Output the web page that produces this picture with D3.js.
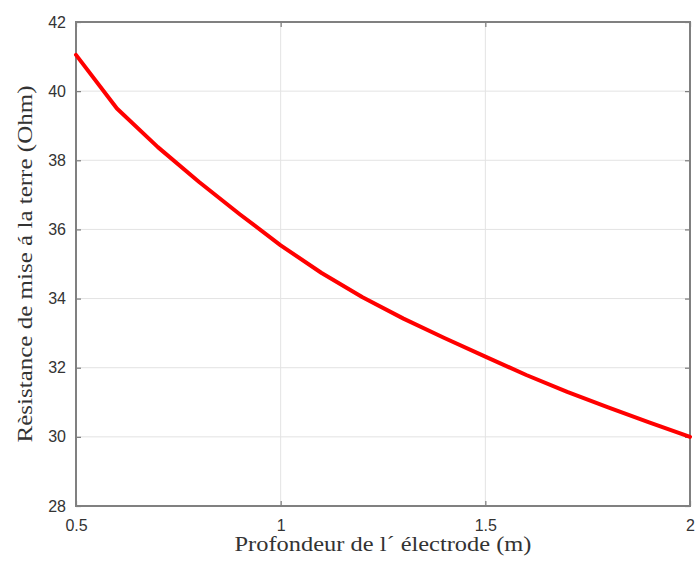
<!DOCTYPE html>
<html>
<head>
<meta charset="utf-8">
<script src="https://cdn.jsdelivr.net/npm/d3@7"></script>
<style>
  html, body { margin: 0; padding: 0; background: #fff; }
  svg { display: block; }
</style>
</head>
<body>
<svg id="chart" width="696" height="562"></svg>
<script>
// Electrode depth (m) and the resulting grounding resistance (Ohm)
const depth = [0.5, 0.6, 0.7, 0.8, 0.9, 1.0, 1.1, 1.2, 1.3, 1.4, 1.5, 1.6, 1.7, 1.8, 1.9, 2.0];
const resistance = [41.05, 39.5, 38.38, 37.38, 36.44, 35.54, 34.74, 34.04, 33.42, 32.86, 32.32, 31.79, 31.3, 30.85, 30.42, 30.0];

const xTicks = [0.5, 1, 1.5, 2];
const yTicks = [28, 30, 32, 34, 36, 38, 40, 42];
const xLabel = "Profondeur de l\u00b4 \u00e9lectrode (m)";
const yLabel = "R\u00e8sistance de mise \u00e1 la terre (Ohm)";

const margin = { left: 76, right: 6, top: 22, bottom: 56 };
const W = 696, H = 562;
const iw = W - margin.left - margin.right;
const ih = H - margin.top - margin.bottom;

const svg = d3.select("#chart");
const g = svg.append("g").attr("transform", `translate(${margin.left},${margin.top})`);

const x = d3.scaleLinear().domain([0.5, 2]).range([0, iw]);
const y = d3.scaleLinear().domain([28, 42]).range([ih, 0]);

// grid
g.append("g").selectAll("line").data(xTicks.slice(1, -1)).join("line")
  .attr("x1", d => x(d)).attr("x2", d => x(d))
  .attr("y1", 0).attr("y2", ih)
  .attr("stroke", "#e3e3e3").attr("stroke-width", 1);
g.append("g").selectAll("line").data(yTicks.slice(1, -1)).join("line")
  .attr("y1", d => y(d)).attr("y2", d => y(d))
  .attr("x1", 0).attr("x2", iw)
  .attr("stroke", "#e3e3e3").attr("stroke-width", 1);

// axes with inward ticks
const tickStyle = sel => {
  sel.select(".domain").remove();
  sel.selectAll(".tick line").attr("stroke", "#7a7a7a").attr("stroke-width", 1.2);
  sel.selectAll(".tick text")
    .attr("fill", "#333")
    .style("font-family", "'Liberation Sans', Arial, sans-serif")
    .style("font-size", "16px");
};

g.append("g").attr("transform", `translate(0,${ih})`)
  .call(d3.axisBottom(x).tickValues(xTicks).tickFormat(d3.format("")).tickSizeInner(-5).tickPadding(14))
  .call(tickStyle);
g.append("g")
  .call(d3.axisLeft(y).tickValues(yTicks).tickFormat(d3.format("")).tickSizeInner(-5).tickPadding(10))
  .call(tickStyle);
g.append("g")
  .call(d3.axisTop(x).tickValues(xTicks).tickFormat("").tickSizeInner(-5))
  .call(tickStyle);
g.append("g").attr("transform", `translate(${iw},0)`)
  .call(d3.axisRight(y).tickValues(yTicks).tickFormat("").tickSizeInner(-5))
  .call(tickStyle);

// frame
g.append("rect").attr("x", 0).attr("y", 0).attr("width", iw).attr("height", ih)
  .attr("fill", "none").attr("stroke", "#808080").attr("stroke-width", 2);

// curve
const pts = depth.map((d, i) => [d, resistance[i]]);
g.append("path").datum(pts)
  .attr("fill", "none").attr("stroke", "#ff0000").attr("stroke-width", 4)
  .attr("stroke-linejoin", "round").attr("stroke-linecap", "round")
  .attr("d", d3.line().x(d => x(d[0])).y(d => y(d[1])));

// axis titles
svg.append("text")
  .attr("x", margin.left + iw / 2).attr("y", 551)
  .attr("text-anchor", "middle")
  .attr("textLength", 297).attr("lengthAdjust", "spacingAndGlyphs")
  .attr("fill", "#333")
  .style("font-family", "'Liberation Serif', 'Times New Roman', serif")
  .style("font-size", "20px")
  .text(xLabel);

svg.append("text")
  .attr("transform", `translate(32,${margin.top + ih / 2}) rotate(-90)`)
  .attr("text-anchor", "middle")
  .attr("textLength", 357).attr("lengthAdjust", "spacingAndGlyphs")
  .attr("fill", "#333")
  .style("font-family", "'Liberation Serif', 'Times New Roman', serif")
  .style("font-size", "20px")
  .text(yLabel);
</script>
</body>
</html>
